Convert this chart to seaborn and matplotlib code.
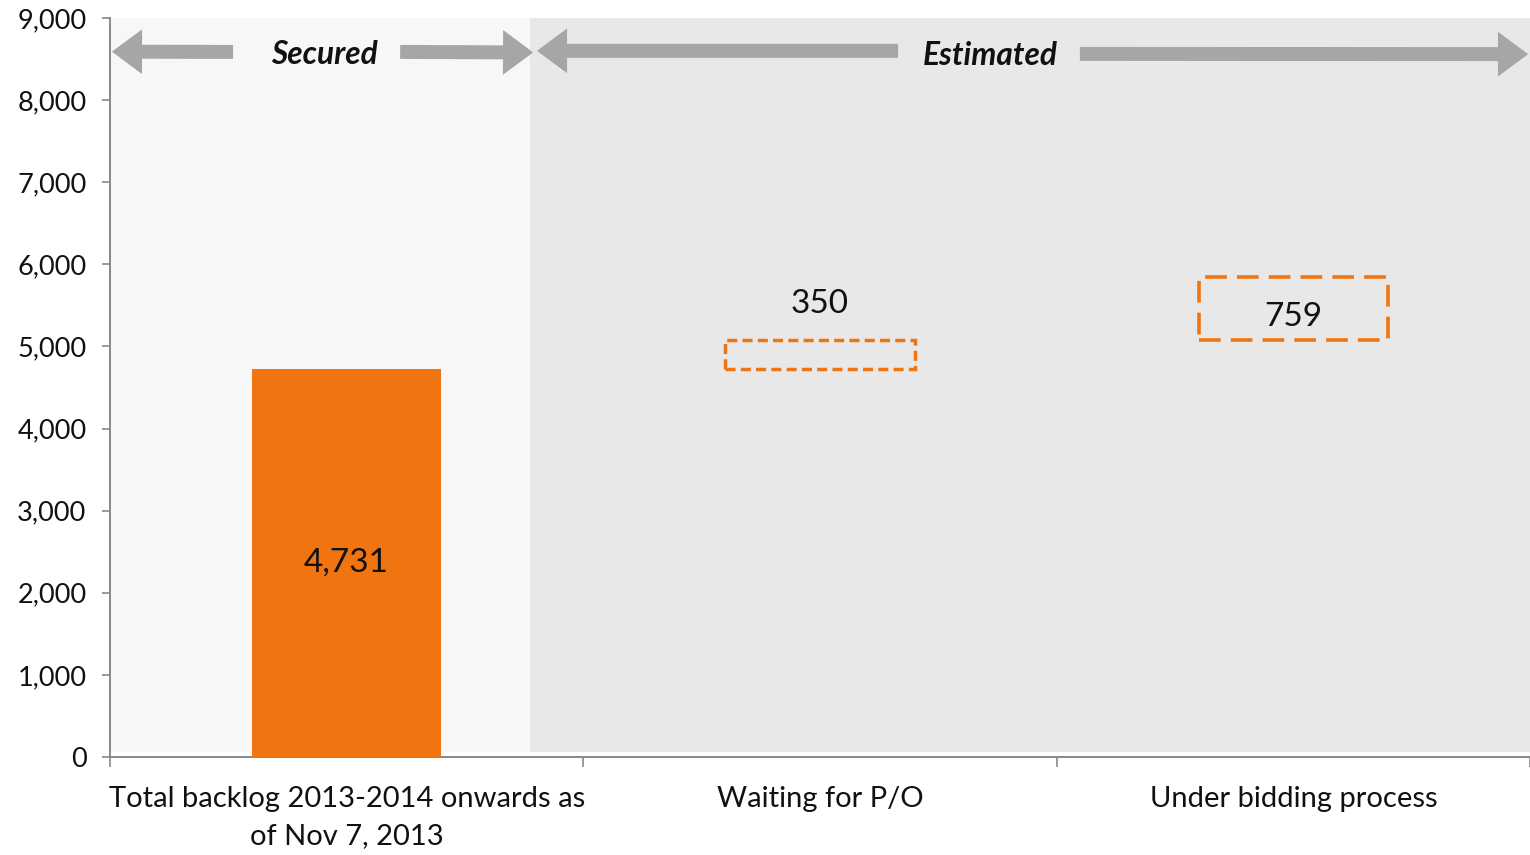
import matplotlib
matplotlib.use("Agg")
import numpy as np
import pandas as pd
import matplotlib.pyplot as plt
import seaborn as sns
from matplotlib.ticker import FuncFormatter

# ---- data ----
categories = ["Total backlog 2013-2014 onwards as\nof Nov 7, 2013",
              "Waiting for P/O",
              "Under bidding process"]
values = [4731, 350, 759]
value_labels = ["4,731", "350", "759"]
y_ticks = [0, 1000, 2000, 3000, 4000, 5000, 6000, 7000, 8000, 9000]
section_labels = ["Secured", "Estimated"]

ORANGE = "#f0740f"
ARROW = "#a6a6a6"
AXIS = "#878787"

sns.set_theme(style="white")
plt.rcParams["font.family"] = ["Lato", "DejaVu Sans"]

fig = plt.figure(figsize=(15.3, 8.55), dpi=100)
ax = fig.add_axes([110 / 1530, 98 / 855, 1420 / 1530, 739 / 855])

df = pd.DataFrame({"category": categories, "value": values})
bottoms = np.concatenate([[0], np.cumsum(values)[:-1]])

sns.barplot(data=df, x="category", y="value", color=ORANGE, saturation=1,
            width=0.4, ax=ax, zorder=3)
bars = list(ax.patches)
styles = [None, (0, (2.9, 1.5)), (0, (6.0, 2.8))]
widths = [0, 2.5, 2.6]
for i, p in enumerate(bars):
    p.set_y(bottoms[i])
    if i > 0:
        p.set_facecolor("none")
        p.set_edgecolor(ORANGE)
        p.set_linewidth(widths[i])
        p.set_linestyle(styles[i])
    else:
        p.set_edgecolor("none")

# background sections
split = 0.387
ax.fill_between([-0.5, split], 60, 9000, color="#f7f7f7", lw=0, zorder=0)
ax.fill_between([split, 2.5], 60, 9000, color="#e8e8e8", lw=0, zorder=0)

# value labels
ax.text(0, bottoms[0] + values[0] / 2, value_labels[0], ha="center", va="center",
        fontsize=24, color="#111111", zorder=5)
ax.annotate(value_labels[1], xy=(1, bottoms[1] + values[1]), xytext=(0, 26),
            textcoords="offset points", ha="center", va="center",
            fontsize=24, color="#111111", zorder=5)
ax.annotate(value_labels[2], xy=(2, bottoms[2] + values[2] / 2), xytext=(0, -6),
            textcoords="offset points", ha="center", va="center",
            fontsize=24, color="#111111", zorder=5)

# section arrows
aprops = dict(arrowstyle="simple,head_length=1.55,head_width=2.3,tail_width=0.72",
              mutation_scale=14, color=ARROW, shrinkA=0, shrinkB=0, lw=0)
arrows = [((-0.240, 8587), (-0.496, 8590)),
          ((0.113, 8587), (0.394, 8580)),
          ((1.165, 8600), (0.402, 8600)),
          ((1.549, 8563), (2.496, 8560))]
for tail, tip in arrows:
    ax.annotate("", xy=tip, xytext=tail, arrowprops=aprops, annotation_clip=False, zorder=4)

ax.text(-0.048, 8560, section_labels[0], ha="center", va="center", fontsize=22.8,
        fontweight="bold", style="italic", color="#111111", zorder=5)
ax.text(1.359, 8540, section_labels[1], ha="center", va="center", fontsize=22.8,
        fontweight="bold", style="italic", color="#111111", zorder=5)

# axes
ax.set_xlim(-0.5, 2.5)
ax.set_ylim(0, 9000)
ax.set_yticks(y_ticks)
ax.yaxis.set_major_formatter(FuncFormatter(lambda v, _: f"{v:,.0f}"))
ax.set_xticks([0, 1, 2])
ax.set_xticklabels(categories, linespacing=1.5)
ax.set_xticks([-0.5, 0.5, 1.5, 2.5], minor=True)
ax.set_xlabel("")
ax.set_ylabel("")

ax.tick_params(axis="y", which="major", left=True, length=6, width=1.2, color=AXIS,
               labelsize=19.5, labelcolor="#111111", pad=11)
ax.tick_params(axis="x", which="major", bottom=True, length=0, labelsize=21,
               labelcolor="#111111", pad=21)
ax.tick_params(axis="x", which="minor", bottom=True, length=7, width=1.2, color=AXIS)

for s in ["top", "right"]:
    ax.spines[s].set_visible(False)
for s in ["left", "bottom"]:
    ax.spines[s].set_color(AXIS)
    ax.spines[s].set_linewidth(1.4)
ax.set_facecolor("white")
ax.grid(False)

fig.savefig("out.png", dpi=100)
